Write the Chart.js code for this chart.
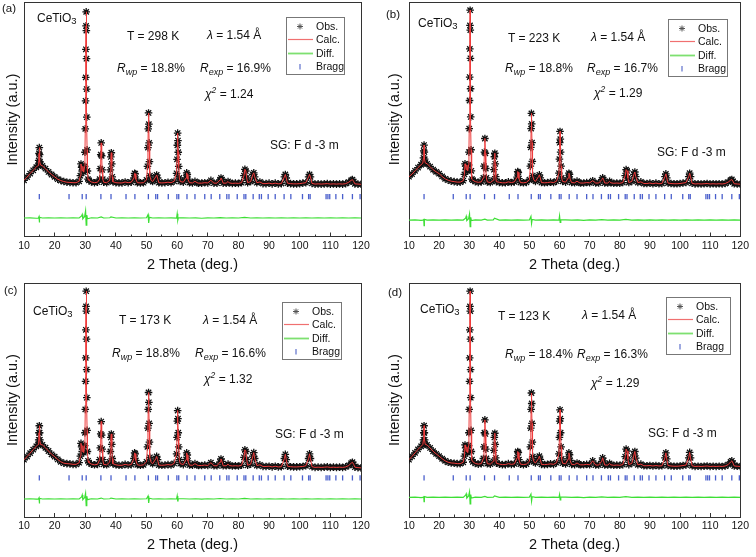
<!DOCTYPE html>
<html>
<head>
<meta charset="utf-8">
<script src="https://cdn.jsdelivr.net/npm/chart.js@4.4.1/dist/chart.umd.min.js"></script>
<style>
html,body{margin:0;padding:0;background:#fff;}
body{width:756px;height:557px;position:relative;overflow:hidden;font-family:"Liberation Sans",Arial,sans-serif;color:#111;}
.panel{position:absolute;width:378px;height:277px;}
.t{position:absolute;font-size:12px;line-height:1;white-space:nowrap;transform:translateY(-50%);}
.lab{font-size:11.5px;}
.sub{font-size:9px;position:relative;top:2.5px;font-style:italic;}
.sub3{font-size:9.5px;position:relative;top:2px;}
.sup{font-size:8.5px;position:relative;top:-5px;font-style:italic;}
.leg{position:absolute;border:1px solid #777;background:#fff;box-sizing:border-box;height:58px;}
.leg .row{position:absolute;left:0;height:13px;width:100%;}
.leg svg{position:absolute;left:1px;top:0;}
.leg span{position:absolute;left:29px;top:0;font-size:10.5px;line-height:13px;}
</style>
</head>
<body>
<div class="panel" style="left:0;top:0"><canvas id="cA" width="378" height="277"></canvas></div>
<div class="panel" style="left:378px;top:0"><canvas id="cB" width="378" height="277"></canvas></div>
<div class="panel" style="left:0;top:280px"><canvas id="cC" width="378" height="277"></canvas></div>
<div class="panel" style="left:378px;top:280px"><canvas id="cD" width="378" height="277"></canvas></div>

<!-- panel (a) -->
<div class="t lab" style="left:2px;top:9px">(a)</div>
<div class="t" style="left:37px;top:18px">CeTiO<span class="sub3">3</span></div>
<div class="t" style="left:127px;top:36px">T = 298 K</div>
<div class="t" style="left:207px;top:35px"><i>λ</i> = 1.54 Å</div>
<div class="t" style="left:117px;top:68px"><i>R</i><span class="sub">wp</span> = 18.8%</div>
<div class="t" style="left:200px;top:68px"><i>R</i><span class="sub">exp</span> = 16.9%</div>
<div class="t" style="left:205px;top:94px"><i>χ</i><span class="sup">2</span> = 1.24</div>
<div class="t" style="left:270px;top:145px">SG: F d -3 m</div>
<div class="leg" style="left:286px;top:17px;width:59px"></div>

<!-- panel (b) -->
<div class="t lab" style="left:386px;top:15px">(b)</div>
<div class="t" style="left:418px;top:23px">CeTiO<span class="sub3">3</span></div>
<div class="t" style="left:508px;top:38px">T = 223 K</div>
<div class="t" style="left:591px;top:37px"><i>λ</i> = 1.54 Å</div>
<div class="t" style="left:505px;top:68px"><i>R</i><span class="sub">wp</span> = 18.8%</div>
<div class="t" style="left:587px;top:68px"><i>R</i><span class="sub">exp</span> = 16.7%</div>
<div class="t" style="left:594px;top:93px"><i>χ</i><span class="sup">2</span> = 1.29</div>
<div class="t" style="left:657px;top:152px">SG: F d -3 m</div>
<div class="leg" style="left:668px;top:19px;width:60px"></div>

<!-- panel (c) -->
<div class="t lab" style="left:4px;top:291px">(c)</div>
<div class="t" style="left:33px;top:311px">CeTiO<span class="sub3">3</span></div>
<div class="t" style="left:119px;top:320px">T = 173 K</div>
<div class="t" style="left:203px;top:320px"><i>λ</i> = 1.54 Å</div>
<div class="t" style="left:112px;top:353px"><i>R</i><span class="sub">wp</span> = 18.8%</div>
<div class="t" style="left:195px;top:353px"><i>R</i><span class="sub">exp</span> = 16.6%</div>
<div class="t" style="left:204px;top:379px"><i>χ</i><span class="sup">2</span> = 1.32</div>
<div class="t" style="left:275px;top:434px">SG: F d -3 m</div>
<div class="leg" style="left:282px;top:302px;width:60px"></div>

<!-- panel (d) -->
<div class="t lab" style="left:388px;top:293px">(d)</div>
<div class="t" style="left:420px;top:309px">CeTiO<span class="sub3">3</span></div>
<div class="t" style="left:498px;top:316px">T = 123 K</div>
<div class="t" style="left:582px;top:315px"><i>λ</i> = 1.54 Å</div>
<div class="t" style="left:505px;top:354px"><i>R</i><span class="sub">wp</span> = 18.4%</div>
<div class="t" style="left:577px;top:354px"><i>R</i><span class="sub">exp</span> = 16.3%</div>
<div class="t" style="left:591px;top:383px"><i>χ</i><span class="sup">2</span> = 1.29</div>
<div class="t" style="left:648px;top:433px">SG: F d -3 m</div>
<div class="leg" style="left:666px;top:297px;width:65px"></div>

<script>
const FONT = '"Liberation Sans", Arial, sans-serif';

// 2θ positions of the observed / calculated profile (deg.)
const twoTheta = [
  10, 11, 12, 13, 14,
  14.6, 14.8, 14.9, 15.0, 15.1, 15.2, 15.4,
  16, 17, 18, 19, 20, 21, 22, 23, 24, 25, 26, 27, 28,
  28.4, 28.6, 28.8, 29.0, 29.2, 29.5, 29.8,
  29.9, 30.0, 30.1, 30.15, 30.2, 30.25, 30.3, 30.35, 30.4, 30.45, 30.5, 30.6, 30.7, 30.9,
  31.2, 32, 33, 34,
  34.7, 34.9, 35.05, 35.2, 35.35, 35.5, 35.7,
  36, 37, 38,
  38.2, 38.35, 38.5, 38.65, 38.8,
  39, 40, 41, 42, 43, 44, 45,
  45.9, 46.1, 46.3, 46.5,
  47, 48, 49, 50,
  50.3, 50.45, 50.55, 50.65, 50.75, 50.85, 50.95, 51.1,
  51.5, 52,
  53.0, 53.3, 53.6,
  54, 55, 56, 57, 58, 59,
  59.8, 59.95, 60.05, 60.15, 60.25, 60.35, 60.5, 60.7,
  61, 62,
  62.9, 63.1, 63.3, 63.5,
  64, 65, 65.8, 66.5, 67, 68, 69, 70,
  71,
  72, 73,
  74.0, 74.3, 74.6,
  75, 76, 76.6, 77, 78, 79, 80, 81,
  81.8, 82.1, 82.4, 82.7,
  83, 84,
  84.7, 85.0, 85.3,
  86, 87, 88, 89, 90, 91, 92, 93, 94,
  95.0, 95.3, 95.6,
  96, 97, 98, 99, 100, 101, 102,
  102.9, 103.2, 103.5,
  104, 105, 106, 107, 108, 109, 110, 111, 112, 113, 114, 115, 116,
  116.8, 117.2, 117.6,
  118, 119, 120
];

// intensities (a.u., offset scale 0-100), panel (a) 298 K
const obsA = [
  24.0, 25.4, 26.9, 28.3, 29.6,
  30.4, 32.5, 35.5, 38.0, 35.0, 32.0, 30.6,
  30.2, 29.0, 27.6, 26.5, 25.5, 24.5, 23.9, 23.5, 23.2, 23.1, 23.0, 23.0, 23.6,
  26.0, 31.0, 29.5, 28.0, 30.0, 27.5, 30.0,
  36, 46, 58, 68, 80, 90, 96, 88, 76, 63, 51, 37, 28, 24.5,
  24.0, 23.3, 23.0, 23.2,
  24.5, 29.0, 35.0, 40.0, 34.5, 28.5, 24.5,
  23.2, 23.0, 24.0,
  28.5, 34.0, 35.8, 31.0, 25.5,
  23.4, 23.0, 22.9, 22.9, 23.3, 23.0, 23.2,
  25.0, 27.0, 26.8, 24.5,
  23.0, 22.9, 23.0, 24.2,
  30, 38, 46, 52.8, 48, 40, 32, 26,
  24.0, 23.5,
  25.5, 26.3, 25.0,
  23.0, 22.9, 23.0, 23.2, 23.0, 23.6,
  27, 33, 39, 44.2, 41, 36, 30, 25,
  23.5, 23.2,
  25.0, 27.2, 26.5, 24.5,
  23.0, 22.9, 23.6, 23.0, 22.8, 22.8, 23.0, 22.9,
  24.0,
  22.8, 22.8,
  24.2, 25.0, 24.3,
  22.8, 22.8, 23.5, 22.9, 22.7, 22.8, 22.7, 23.0,
  26.0, 28.7, 28.0, 25.0,
  23.0, 23.5,
  26.5, 27.2, 25.5,
  23.0, 23.3, 22.6, 22.6, 22.8, 22.5, 22.8, 22.5, 22.6,
  25.5, 26.5, 25.0,
  22.8, 22.6, 22.5, 22.5, 22.6, 22.8, 23.0,
  25.5, 26.5, 25.5,
  22.7, 22.4, 22.5, 22.4, 22.5, 22.6, 22.4, 22.5, 22.4, 22.5, 22.4, 22.6, 23.2,
  24.0, 24.3, 23.5,
  22.5, 22.4, 22.3
];

// panel (b) 223 K
const obsB = [
  25.5, 26.6, 28.0, 29.4, 30.6,
  31.3, 33.5, 36.5, 39.0, 36.0, 33.0, 31.4,
  31.0, 29.8, 28.5, 27.6, 26.8, 25.6, 24.6, 24.0, 23.6, 23.4, 23.2, 23.2, 23.8,
  26.5, 31.0, 30.0, 28.5, 30.5, 28.0, 30.5,
  36, 46, 58, 68, 80, 90, 96.5, 88, 76, 63, 51, 37, 28, 24.5,
  24.0, 23.4, 23.1, 23.3,
  25.0, 30.0, 36.0, 41.8, 35.5, 29.0, 25.0,
  23.3, 23.0, 24.0,
  28.5, 34.0, 35.5, 31.0, 25.5,
  23.4, 23.1, 22.9, 22.9, 23.3, 23.0, 23.3,
  25.3, 27.7, 27.3, 24.7,
  23.0, 22.9, 23.1, 24.2,
  30, 38, 46, 52.5, 48, 40, 32, 26,
  24.0, 23.5,
  25.5, 26.3, 25.0,
  23.0, 22.9, 23.0, 23.2, 23.0, 23.6,
  27, 33, 40, 44.8, 41.5, 36, 30, 25,
  23.5, 23.2,
  25.0, 27.0, 26.5, 24.5,
  23.0, 22.9, 23.6, 23.0, 22.8, 22.8, 23.0, 22.9,
  23.8,
  22.8, 22.8,
  24.2, 25.0, 24.3,
  22.8, 22.8, 23.5, 22.9, 22.7, 22.8, 22.7, 23.0,
  26.0, 28.5, 28.0, 25.0,
  23.0, 23.5,
  26.5, 27.5, 25.5,
  23.0, 23.3, 22.6, 22.6, 22.8, 22.5, 22.8, 22.5, 22.6,
  25.5, 26.7, 25.0,
  22.8, 22.6, 22.5, 22.5, 22.6, 22.8, 23.0,
  25.5, 27.0, 25.5,
  22.7, 22.4, 22.5, 22.4, 22.5, 22.6, 22.4, 22.5, 22.4, 22.5, 22.4, 22.6, 23.2,
  24.0, 24.3, 23.5,
  22.5, 22.4, 22.3
];

// panel (c) 173 K
const obsC = [
  24.5, 25.8, 27.3, 28.8, 30.2,
  31.0, 33.0, 36.0, 39.0, 36.0, 33.0, 31.0,
  30.8, 29.6, 28.2, 26.8, 25.8, 24.6, 23.6, 23.0, 22.8, 22.7, 22.5, 22.5, 23.2,
  26.0, 31.5, 30.0, 28.0, 30.5, 27.5, 30.5,
  36, 46, 58, 68, 80, 90, 96.5, 88, 76, 63, 51, 37, 28, 24,
  23.2, 22.6, 22.3, 22.5,
  24.5, 29.5, 35.5, 40.8, 35.0, 29.0, 24.5,
  22.5, 22.3, 23.5,
  28.0, 34.0, 35.5, 31.0, 25.0,
  22.8, 22.3, 22.1, 22.1, 22.5, 22.2, 22.4,
  25.0, 27.4, 27.0, 24.2,
  22.3, 22.1, 22.3, 23.6,
  30, 38, 46, 53.2, 49, 40, 32, 25.5,
  23.3, 22.8,
  24.8, 25.9, 24.5,
  22.2, 22.1, 22.2, 22.4, 22.2, 22.9,
  27, 34, 41, 45.5, 42, 36, 30, 24.5,
  22.8, 22.4,
  24.6, 27.4, 26.5, 24.0,
  22.2, 22.1, 22.8, 22.2, 22.0, 22.0, 22.2, 22.0,
  23.2,
  21.9, 21.9,
  23.5, 24.8, 23.8,
  21.9, 21.9, 22.6, 22.0, 21.8, 21.9, 21.8, 22.1,
  25.5, 28.7, 28.0, 24.5,
  22.1, 22.6,
  26.0, 27.5, 25.0,
  22.0, 22.3, 21.6, 21.6, 21.7, 21.4, 21.7, 21.4, 21.5,
  25.0, 26.8, 24.5,
  21.7, 21.5, 21.4, 21.4, 21.5, 21.6, 21.9,
  25.0, 27.0, 25.0,
  21.5, 21.2, 21.3, 21.2, 21.3, 21.4, 21.2, 21.3, 21.2, 21.3, 21.2, 21.4, 22.0,
  23.0, 23.4, 22.5,
  21.3, 21.1, 21.0
];

// panel (d) 123 K
const obsD = [
  24.5, 25.9, 27.4, 28.9, 30.2,
  31.0, 33.0, 36.0, 39.0, 36.0, 33.0, 31.0,
  30.8, 29.5, 28.1, 27.0, 26.0, 24.9, 24.0, 23.4, 23.1, 23.0, 22.8, 22.8, 23.4,
  26.0, 30.8, 29.5, 28.0, 30.0, 27.5, 30.5,
  36, 46, 58, 68, 80, 90, 96.5, 88, 76, 63, 51, 37, 28, 24.5,
  23.6, 22.9, 22.6, 22.8,
  25.0, 30.0, 36.0, 41.5, 35.5, 29.0, 25.0,
  22.8, 22.6, 23.8,
  28.5, 34.0, 35.8, 31.0, 25.3,
  23.0, 22.6, 22.4, 22.4, 22.8, 22.5, 22.7,
  25.3, 28.0, 27.5, 24.5,
  22.6, 22.4, 22.6, 23.8,
  30, 38, 46, 53, 48.5, 40, 32, 25.8,
  23.6, 23.1,
  25.0, 26.0, 24.6,
  22.5, 22.4, 22.5, 22.7, 22.5, 23.2,
  27, 34, 41, 45.8, 42, 36, 30, 24.8,
  23.0, 22.7,
  24.8, 27.4, 26.6, 24.2,
  22.5, 22.4, 23.1, 22.5, 22.3, 22.3, 22.5, 22.3,
  24.0,
  22.2, 22.2,
  23.8, 25.3, 24.0,
  22.2, 22.2, 22.9, 22.3, 22.1, 22.2, 22.1, 22.4,
  25.8, 29.0, 28.2, 24.8,
  22.4, 22.9,
  26.5, 28.0, 25.2,
  22.3, 22.6, 21.9, 21.9, 22.0, 21.8, 22.0, 21.8, 21.9,
  25.3, 27.4, 24.8,
  22.0, 21.8, 21.7, 21.7, 21.8, 22.0, 22.2,
  25.3, 27.6, 25.3,
  21.9, 21.6, 21.7, 21.6, 21.7, 21.8, 21.6, 21.7, 21.6, 21.7, 21.6, 21.8, 22.4,
  23.5, 24.0, 23.0,
  21.8, 21.7, 21.6
];

// difference curve (offset)
const diffTheta = [
  10, 12, 14, 14.7, 14.9, 15.0, 15.1, 16, 18, 20, 22, 24, 26, 28,
  28.8, 29.0, 29.2, 29.8, 30.1, 30.3, 30.5, 30.7,
  32, 34, 35.2, 36, 38, 38.4, 40, 42, 44, 46, 48, 50,
  50.5, 50.7, 50.9,
  52, 54, 56, 58, 59.8,
  60.0, 60.2, 60.4,
  62, 64, 66, 68, 70, 72, 74, 76, 78, 80, 82, 84, 86, 88, 90, 92, 94, 96, 98, 100, 102, 104, 106, 108, 110, 112, 114, 116, 118, 120
];
const diffA = [
  7.9, 8.0, 7.8, 7.9, 8.5, 6.0, 8.2, 7.9, 8.0, 7.9, 8.0, 7.9, 8.0, 7.9,
  8.8, 9.4, 7.6, 8.6, 11.0, 4.8, 9.2, 7.6,
  8.0, 7.9, 8.4, 7.9, 8.0, 8.4, 7.9, 8.0, 7.9, 8.0, 7.9, 8.0,
  9.4, 5.8, 8.2,
  7.9, 8.0, 7.9, 8.0, 7.9,
  9.7, 7.0, 8.1,
  8.0, 7.9, 8.0, 7.8, 8.0, 7.9, 8.1, 7.9, 8.0, 7.9, 8.2, 7.9, 8.0, 7.9, 8.0, 7.9, 8.0, 7.9, 8.0, 7.9, 8.0, 7.9, 8.0, 7.9, 8.0, 7.9, 8.0, 7.9, 8.0, 7.9
];
const diffB = [
  7.0, 7.1, 6.9, 7.0, 7.5, 4.6, 7.3, 7.0, 7.1, 7.0, 7.1, 7.0, 7.1, 7.0,
  7.8, 8.6, 6.8, 7.6, 9.6, 4.2, 8.2, 6.8,
  7.1, 7.0, 7.4, 7.0, 7.1, 7.8, 7.0, 7.1, 7.0, 7.1, 7.0, 7.1,
  8.6, 5.6, 7.3,
  7.0, 7.1, 7.0, 7.1, 7.0,
  8.8, 6.0, 7.2,
  7.1, 7.0, 7.1, 6.9, 7.1, 7.0, 7.2, 7.0, 7.1, 7.0, 7.3, 7.0, 7.1, 7.0, 7.1, 7.0, 7.1, 7.0, 7.1, 7.0, 7.1, 7.0, 7.1, 7.0, 7.1, 7.0, 7.1, 7.0, 7.1, 7.0
];
const diffC = [
  7.7, 7.8, 7.6, 7.7, 8.2, 5.8, 8.0, 7.7, 7.8, 7.7, 7.8, 7.7, 7.8, 7.7,
  8.6, 9.4, 7.4, 8.3, 10.2, 4.8, 8.9, 7.4,
  7.8, 7.7, 8.1, 7.7, 7.8, 8.1, 7.7, 7.8, 7.7, 7.8, 7.7, 7.8,
  9.0, 6.0, 8.0,
  7.7, 7.8, 7.7, 7.8, 7.7,
  9.0, 6.6, 7.9,
  7.8, 7.7, 7.8, 7.6, 7.8, 7.7, 7.9, 7.7, 7.8, 7.7, 8.0, 7.7, 7.8, 7.7, 7.8, 7.7, 7.8, 7.7, 7.8, 7.7, 7.8, 7.7, 7.8, 7.7, 7.8, 7.7, 7.8, 7.7, 7.8, 7.7
];
const diffD = [
  8.4, 8.5, 8.3, 8.4, 8.9, 6.6, 8.7, 8.4, 8.5, 8.4, 8.5, 8.4, 8.5, 8.4,
  9.3, 9.9, 8.1, 9.0, 10.8, 5.6, 9.6, 8.1,
  8.5, 8.4, 8.8, 8.4, 8.5, 9.0, 8.4, 8.5, 8.4, 8.5, 8.4, 8.5,
  9.8, 6.8, 8.7,
  8.4, 8.5, 8.4, 8.5, 8.4,
  9.6, 7.3, 8.6,
  8.5, 8.4, 8.5, 8.3, 8.5, 8.4, 8.6, 8.4, 8.5, 8.4, 8.7, 8.4, 8.5, 8.4, 8.5, 8.4, 8.5, 8.4, 8.5, 8.4, 8.5, 8.4, 8.5, 8.4, 8.5, 8.4, 8.5, 8.4, 8.5, 8.4
];

// Bragg reflection positions (Fd-3m) and their offset level per panel
const braggTheta = [15.0, 24.7, 29.0, 30.3, 35.1, 38.4, 43.3, 46.2, 50.6, 53.0, 53.6, 57.1, 59.9, 60.5,
  63.2, 65.8, 69.0, 71.1, 73.9, 76.2, 76.9, 79.6, 81.8, 82.4, 84.8, 86.8, 87.5, 89.7, 92.0, 94.9,
  97.1, 100.9, 102.9, 103.4, 108.6, 109.2, 109.8, 111.8, 114.0, 117.2, 119.7];
const braggLevel = [17, 17, 16.7, 16.7];

const xTickValues = [10, 20, 30, 40, 50, 60, 70, 80, 90, 100, 110, 120];
const xMinorTickValues = [15, 25, 35, 45, 55, 65, 75, 85, 95, 105, 115];

[obsA, obsB, obsC, obsD].forEach((a, i) => { if (a.length !== twoTheta.length) console.error('obs length mismatch', i, a.length); });
[diffA, diffB, diffC, diffD].forEach((a, i) => { if (a.length !== diffTheta.length) console.error('diff length mismatch', i, a.length); });

function pts(xs, ys) { return xs.map((x, i) => ({x: x, y: ys[i]})); }

const AX = '#333';
function makeChart(id, obs, diff, bLevel, geo) {
  new Chart(document.getElementById(id), {
    type: 'scatter',
    data: {
      datasets: [
        {label: 'Calc.', data: pts(twoTheta, obs), showLine: true, borderColor: '#ee3c3c', borderWidth: 1, pointRadius: 0, order: 0},
        {label: 'Obs.', data: pts(twoTheta, obs), showLine: false, pointStyle: 'star', pointRadius: 3.8,
         pointBorderColor: '#111', pointBackgroundColor: '#111', pointBorderWidth: 1.3, order: 1},
        {label: 'Diff.', data: pts(diffTheta, diff), showLine: true, borderColor: '#3ddf35', borderWidth: 1.2, pointRadius: 0, order: 2},
        {label: 'Bragg', data: braggTheta.map(x => ({x: x, y: bLevel})), showLine: false, pointStyle: 'line', pointRotation: 90,
         pointRadius: 2.6, pointBorderColor: '#4a5fcc', pointBorderWidth: 1.3, order: 3}
      ]
    },
    options: {
      responsive: false, animation: false, events: [],
      layout: {autoPadding: false, padding: {top: geo.top, right: geo.right, left: 0, bottom: 0}},
      plugins: {legend: {display: false}, tooltip: {enabled: false}},
      scales: {
        x: {type: 'linear', position: 'bottom', min: 10, max: 120,
            afterBuildTicks: s => { s.ticks = xTickValues.map(v => ({value: v})); },
            afterFit: s => { s.height = geo.xh; },
            ticks: {font: {family: FONT, size: 10.5}, color: '#111', padding: 7, maxRotation: 0, autoSkip: false},
            grid: {drawOnChartArea: false, drawTicks: true, tickLength: -4, color: AX, lineWidth: 1},
            border: {display: true, color: AX, width: 1},
            title: {display: true, text: '2 Theta (deg.)', font: {family: FONT, size: 14.5}, color: '#111', padding: {top: 0, bottom: 3.3}}},
        xm: {type: 'linear', axis: 'x', position: {y: 0}, min: 10, max: 120,
             afterBuildTicks: s => { s.ticks = xMinorTickValues.map(v => ({value: v})); },
             ticks: {display: false},
             grid: {drawOnChartArea: false, drawTicks: true, tickLength: -2.5, color: AX, lineWidth: 1},
             border: {display: false}},
        xt: {type: 'linear', axis: 'x', position: 'top', min: 10, max: 120,
             afterFit: s => { s.height = 0; },
             ticks: {display: false}, grid: {drawOnChartArea: false, drawTicks: false},
             border: {display: true, color: AX, width: 1}},
        y: {type: 'linear', position: 'left', min: 0, max: 100,
            afterFit: s => { s.width = geo.left; },
            ticks: {display: false}, grid: {drawOnChartArea: false, drawTicks: false},
            border: {display: true, color: AX, width: 1},
            title: {display: true, text: 'Intensity (a.u.)', font: {family: FONT, size: 14.5}, color: '#111', padding: {top: geo.ytp, bottom: 0}}},
        yr: {type: 'linear', position: 'right', min: 0, max: 100,
             afterFit: s => { s.width = 0; },
             ticks: {display: false}, grid: {drawOnChartArea: false, drawTicks: false},
             border: {display: true, color: AX, width: 1}}
      }
    }
  });
}

makeChart('cA', obsA, diffA, braggLevel[0], {left: 24, right: 17, top: 2.5, xh: 40.5, ytp: 3.8});
makeChart('cB', obsB, diffB, braggLevel[1], {left: 31, right: 11, top: 2, xh: 40.5, ytp: 8});
makeChart('cC', obsC, diffC, braggLevel[2], {left: 24, right: 17, top: 3, xh: 40, ytp: 3.8});
makeChart('cD', obsD, diffD, braggLevel[3], {left: 31, right: 11, top: 3, xh: 40, ytp: 8});

// legends
const legendItems = [
  {text: 'Obs.', svg: '<path d="M9 6.5H15M12 3.5V9.5M9.9 4.4L14.1 8.6M14.1 4.4L9.9 8.6" stroke="#555" stroke-width="1" fill="none"/>'},
  {text: 'Calc.', svg: '<path d="M0 6.5H25" stroke="#f07070" stroke-width="1.2"/>'},
  {text: 'Diff.', svg: '<path d="M0 6.5H25" stroke="#7ee070" stroke-width="1.8"/>'},
  {text: 'Bragg', svg: '<path d="M12 4V9.5" stroke="#6a7bd0" stroke-width="1.3"/>'}
];
document.querySelectorAll('.leg').forEach(box => {
  legendItems.forEach((it, i) => {
    const row = document.createElement('div');
    row.className = 'row';
    row.style.top = (1.5 + i * 13.5) + 'px';
    row.innerHTML = '<svg width="26" height="13" viewBox="0 0 26 13">' + it.svg + '</svg><span>' + it.text + '</span>';
    box.appendChild(row);
  });
});
</script>
</body>
</html>
